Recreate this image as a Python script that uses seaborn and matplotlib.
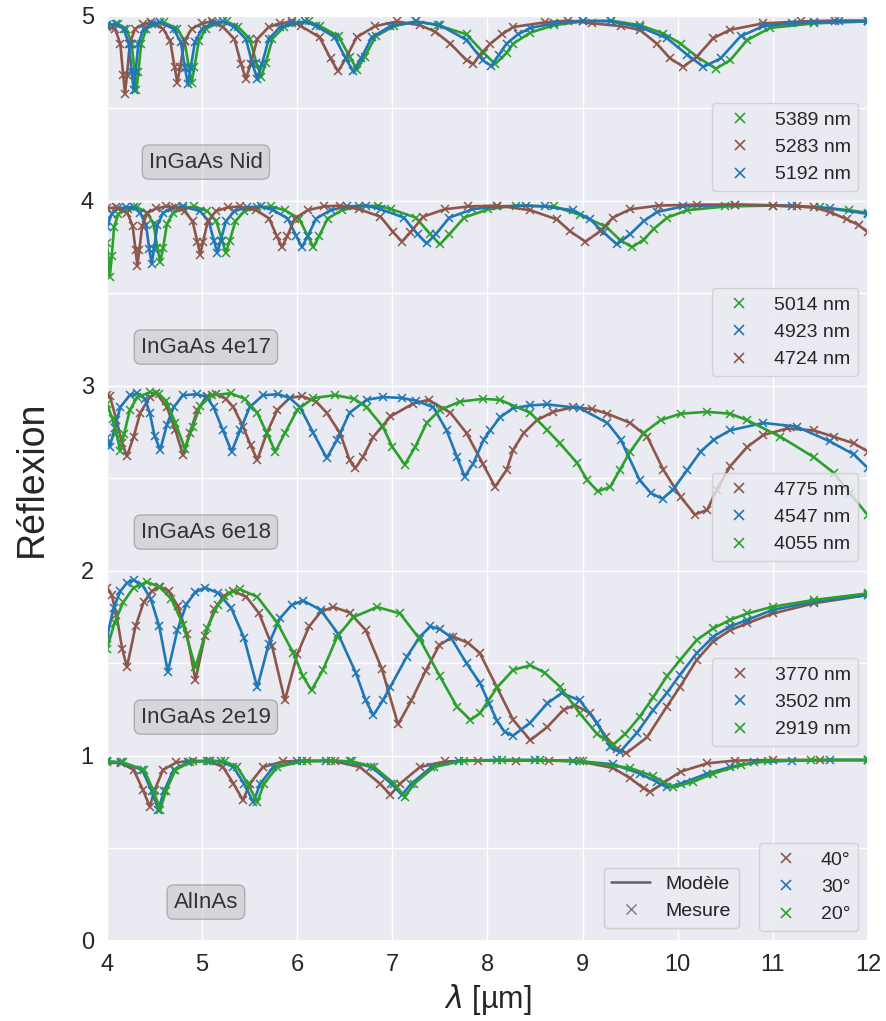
import numpy as np
import matplotlib
matplotlib.use("Agg")
import matplotlib.pyplot as plt
import seaborn as sns
from matplotlib.lines import Line2D

# wavelength (µm) / reflectance, one pair of lists per curve

# InGaAs Nid
nid_5389_x = [4.00, 4.12, 4.205, 4.26, 4.29, 4.31, 4.33, 4.36, 4.415, 4.50, 4.60, 4.74, 4.815, 4.86, 4.89, 4.92, 4.965, 5.04, 5.15, 5.26,
              5.38, 5.50, 5.57, 5.62, 5.67, 5.74, 5.86, 5.99, 6.12, 6.24, 6.435, 6.55, 6.63, 6.71, 6.825, 7.02, 7.25, 7.48, 7.78, 7.96,
              8.08, 8.20, 8.27, 8.45, 8.70, 9.00, 9.30, 9.60, 9.85, 10.03, 10.20, 10.40, 10.55, 10.73, 10.97, 11.43, 12.0]
nid_5389_r = [0.95, 0.955, 0.93, 0.85, 0.695, 0.60, 0.695, 0.85, 0.93, 0.955, 0.965, 0.93, 0.865, 0.725, 0.64, 0.725, 0.865, 0.93, 0.96, 0.97,
              0.94, 0.877, 0.748, 0.67, 0.748, 0.877, 0.94, 0.96, 0.97, 0.945, 0.89, 0.78, 0.71, 0.78, 0.89, 0.945, 0.97, 0.95, 0.90, 0.80,
              0.74, 0.80, 0.85, 0.91, 0.95, 0.97, 0.975, 0.95, 0.905, 0.85, 0.78, 0.715, 0.76, 0.87, 0.935, 0.96, 0.97]
nid_5283_x = [4.00, 4.085, 4.14, 4.17, 4.19, 4.21, 4.24, 4.295, 4.38, 4.46, 4.59, 4.665, 4.71, 4.74, 4.77, 4.815, 4.89, 5.00, 5.10,
              5.22, 5.34, 5.41, 5.46, 5.51, 5.58, 5.70, 5.82, 5.95, 6.04, 6.235, 6.35, 6.43, 6.51, 6.625, 6.82, 7.05,
              7.29, 7.45, 7.61, 7.78, 7.85, 7.92, 8.03, 8.15, 8.27, 8.60, 8.85, 9.10, 9.40, 9.60, 9.78, 9.92, 10.06, 10.20,
              10.375, 10.55, 10.90, 11.30, 11.65, 12.0]
nid_5283_r = [0.94, 0.93, 0.85, 0.68, 0.58, 0.68, 0.85, 0.93, 0.955, 0.965, 0.93, 0.865, 0.725, 0.64, 0.725, 0.865, 0.93, 0.96, 0.97,
              0.94, 0.875, 0.74, 0.66, 0.74, 0.875, 0.94, 0.96, 0.97, 0.945, 0.885, 0.77, 0.70, 0.77, 0.885, 0.945, 0.97,
              0.95, 0.915, 0.85, 0.76, 0.74, 0.79, 0.85, 0.90, 0.94, 0.965, 0.975, 0.96, 0.945, 0.925, 0.85, 0.77, 0.725, 0.78,
              0.88, 0.925, 0.96, 0.97, 0.975, 0.975]
nid_5192_x = [4.00, 4.10, 4.175, 4.23, 4.26, 4.28, 4.30, 4.33, 4.385, 4.47, 4.56, 4.70, 4.775, 4.82, 4.85, 4.88, 4.925, 5.00, 5.11, 5.22,
              5.34, 5.46, 5.53, 5.58, 5.63, 5.70, 5.82, 5.95, 6.08, 6.20, 6.395, 6.51, 6.59, 6.67, 6.785, 6.98, 7.25, 7.50, 7.78, 7.95,
              8.04, 8.12, 8.20, 8.32, 8.45, 8.70, 9.00, 9.30, 9.60, 9.885, 10.10, 10.27, 10.45, 10.66, 10.90, 11.20, 11.43, 11.70, 12.0]
nid_5192_r = [0.95, 0.955, 0.93, 0.85, 0.695, 0.60, 0.695, 0.85, 0.93, 0.955, 0.965, 0.93, 0.86, 0.72, 0.63, 0.72, 0.86, 0.93, 0.96, 0.97,
              0.94, 0.875, 0.74, 0.66, 0.74, 0.875, 0.94, 0.96, 0.97, 0.945, 0.885, 0.77, 0.70, 0.77, 0.885, 0.945, 0.97, 0.95, 0.87, 0.76,
              0.73, 0.79, 0.85, 0.90, 0.935, 0.96, 0.975, 0.97, 0.94, 0.88, 0.79, 0.725, 0.77, 0.89, 0.945, 0.96, 0.965, 0.97, 0.97]

# InGaAs 4e17
p17_5014_x = [4.00, 4.015, 4.03, 4.05, 4.075, 4.12, 4.22, 4.32, 4.425, 4.49, 4.53, 4.56, 4.59, 4.63, 4.695, 4.80, 4.92, 5.055, 5.15, 5.21,
              5.25, 5.29, 5.35, 5.445, 5.58, 5.72, 5.87, 6.02, 6.11, 6.17, 6.23, 6.32, 6.47, 6.65, 6.85, 6.99, 7.245, 7.40, 7.50, 7.60,
              7.755, 8.01, 8.30, 8.70, 8.97, 9.25, 9.39, 9.52, 9.64, 9.75, 9.89, 10.10, 10.50, 11.00, 11.50, 11.80, 12.0]
p17_5014_r = [0.77, 0.68, 0.59, 0.70, 0.86, 0.93, 0.955, 0.965, 0.935, 0.875, 0.745, 0.67, 0.745, 0.875, 0.935, 0.96, 0.97, 0.945, 0.89, 0.785,
              0.72, 0.785, 0.89, 0.945, 0.965, 0.97, 0.95, 0.905, 0.81, 0.75, 0.81, 0.905, 0.95, 0.97, 0.975, 0.955, 0.91, 0.82, 0.765, 0.82,
              0.91, 0.955, 0.975, 0.97, 0.925, 0.86, 0.79, 0.75, 0.79, 0.85, 0.91, 0.95, 0.97, 0.975, 0.965, 0.95, 0.935]
p17_4923_x = [4.00, 4.05, 4.12, 4.20, 4.28, 4.35, 4.41, 4.445, 4.47, 4.495, 4.53, 4.59, 4.68, 4.80, 4.98, 5.07, 5.125, 5.16, 5.195, 5.25,
              5.34, 5.47, 5.62, 5.75, 5.90, 5.99, 6.05, 6.11, 6.20, 6.35, 6.52, 6.72, 6.88, 7.12, 7.265, 7.36, 7.455, 7.60, 7.84, 8.10,
              8.40, 8.60, 8.90, 9.08, 9.22, 9.36, 9.50, 9.64, 9.78, 10.05, 10.60, 11.20, 11.60, 12.0]
p17_4923_r = [0.86, 0.93, 0.96, 0.965, 0.965, 0.935, 0.87, 0.74, 0.66, 0.74, 0.87, 0.935, 0.96, 0.97, 0.945, 0.89, 0.785, 0.72, 0.785, 0.89,
              0.945, 0.965, 0.97, 0.95, 0.905, 0.81, 0.75, 0.81, 0.905, 0.95, 0.97, 0.975, 0.955, 0.91, 0.82, 0.77, 0.82, 0.91, 0.955, 0.97,
              0.975, 0.97, 0.95, 0.90, 0.83, 0.765, 0.82, 0.89, 0.94, 0.97, 0.98, 0.975, 0.96, 0.93]
p17_4724_x = [4.00, 4.10, 4.215, 4.27, 4.30, 4.32, 4.34, 4.37, 4.425, 4.52, 4.62, 4.72, 4.815, 4.90, 4.95, 4.98, 5.01, 5.06, 5.145, 5.27,
              5.40, 5.57, 5.705, 5.785, 5.84, 5.895, 5.975, 6.11, 6.28, 6.45, 6.65, 6.875, 7.01, 7.10, 7.19, 7.325, 7.55, 7.80, 8.10, 8.45,
              8.73, 8.87, 9.03, 9.18, 9.32, 9.50, 9.80, 10.20, 10.60, 11.00, 11.25, 11.43, 11.60, 11.78, 11.90, 12.0]
p17_4724_r = [0.96, 0.965, 0.935, 0.865, 0.735, 0.65, 0.735, 0.865, 0.935, 0.96, 0.97, 0.965, 0.945, 0.89, 0.78, 0.71, 0.78, 0.89, 0.945, 0.965,
              0.97, 0.95, 0.905, 0.81, 0.75, 0.81, 0.905, 0.95, 0.97, 0.975, 0.955, 0.915, 0.83, 0.78, 0.83, 0.915, 0.955, 0.97, 0.975, 0.95,
              0.90, 0.835, 0.78, 0.835, 0.91, 0.955, 0.975, 0.98, 0.98, 0.975, 0.97, 0.965, 0.94, 0.90, 0.87, 0.83]

# InGaAs 6e18
p18_4775_x = [4.00, 4.03, 4.10, 4.16, 4.21, 4.28, 4.35, 4.45, 4.52, 4.63, 4.72, 4.80, 4.87, 4.95, 5.05, 5.15, 5.25, 5.33, 5.43, 5.51,
              5.58, 5.68, 5.79, 5.92, 6.05, 6.20, 6.31, 6.45, 6.55, 6.61, 6.69, 6.80, 6.98, 7.22, 7.38, 7.61, 7.78, 7.95, 8.08, 8.20,
              8.27, 8.38, 8.52, 8.69, 8.90, 9.10, 9.26, 9.50, 9.68, 9.85, 10.03, 10.18, 10.31, 10.41, 10.55, 10.73, 10.90, 11.15, 11.43, 11.64,
              11.85, 12.0]
p18_4775_r = [0.95, 0.945, 0.815, 0.69, 0.62, 0.725, 0.855, 0.94, 0.96, 0.885, 0.76, 0.625, 0.745, 0.87, 0.945, 0.955, 0.93, 0.885, 0.78, 0.68,
              0.60, 0.745, 0.87, 0.935, 0.945, 0.915, 0.855, 0.745, 0.60, 0.555, 0.615, 0.725, 0.835, 0.905, 0.925, 0.855, 0.745, 0.58, 0.455, 0.545,
              0.655, 0.745, 0.815, 0.86, 0.885, 0.875, 0.85, 0.80, 0.725, 0.545, 0.40, 0.305, 0.33, 0.44, 0.565, 0.67, 0.735, 0.77, 0.76, 0.725,
              0.69, 0.645]
p18_4547_x = [4.00, 4.03, 4.08, 4.14, 4.24, 4.32, 4.40, 4.45, 4.50, 4.56, 4.63, 4.70, 4.80, 4.95, 5.05, 5.12, 5.22, 5.31, 5.40, 5.50,
              5.64, 5.80, 5.92, 6.03, 6.17, 6.31, 6.42, 6.55, 6.73, 6.90, 7.10, 7.25, 7.43, 7.57, 7.68, 7.76, 7.85, 7.96, 8.03, 8.13,
              8.27, 8.45, 8.63, 8.97, 9.26, 9.40, 9.60, 9.72, 9.84, 9.95, 10.10, 10.24, 10.38, 10.55, 10.90, 11.25, 11.60, 11.85, 12.0]
p18_4547_r = [0.72, 0.67, 0.77, 0.885, 0.95, 0.96, 0.93, 0.855, 0.73, 0.655, 0.79, 0.885, 0.95, 0.955, 0.94, 0.885, 0.76, 0.645, 0.76, 0.885,
              0.95, 0.955, 0.935, 0.885, 0.745, 0.61, 0.71, 0.855, 0.925, 0.94, 0.935, 0.92, 0.885, 0.76, 0.615, 0.51, 0.58, 0.71, 0.76, 0.83,
              0.88, 0.895, 0.90, 0.88, 0.80, 0.71, 0.49, 0.42, 0.39, 0.44, 0.545, 0.645, 0.71, 0.76, 0.80, 0.78, 0.70, 0.63, 0.555]
p18_4055_x = [4.00, 4.06, 4.10, 4.14, 4.18, 4.24, 4.32, 4.45, 4.55, 4.62, 4.72, 4.82, 4.90, 4.98, 5.10, 5.30, 5.45, 5.58, 5.68, 5.77,
              5.87, 6.00, 6.17, 6.40, 6.60, 6.73, 6.90, 7.00, 7.13, 7.24, 7.36, 7.50, 7.71, 7.95, 8.13, 8.45, 8.63, 8.76, 8.94, 9.05,
              9.16, 9.29, 9.39, 9.50, 9.64, 9.82, 10.03, 10.31, 10.55, 10.73, 11.08, 11.43, 11.64, 11.81, 12.0]
p18_4055_r = [0.90, 0.82, 0.74, 0.65, 0.74, 0.87, 0.94, 0.965, 0.955, 0.92, 0.80, 0.66, 0.78, 0.89, 0.95, 0.96, 0.93, 0.855, 0.745, 0.645,
              0.745, 0.87, 0.935, 0.95, 0.93, 0.885, 0.78, 0.67, 0.575, 0.67, 0.80, 0.87, 0.915, 0.93, 0.925, 0.855, 0.76, 0.69, 0.585, 0.49,
              0.43, 0.455, 0.545, 0.645, 0.745, 0.815, 0.85, 0.86, 0.85, 0.815, 0.725, 0.615, 0.53, 0.42, 0.30]

# InGaAs 2e19
p19_3770_x = [4.00, 4.05, 4.10, 4.16, 4.21, 4.30, 4.385, 4.47, 4.56, 4.65, 4.745, 4.84, 4.93, 5.03, 5.13, 5.23, 5.33, 5.465, 5.60, 5.735,
              5.87, 6.00, 6.125, 6.25, 6.38, 6.55, 6.72, 6.89, 7.06, 7.20, 7.35, 7.495, 7.64, 7.80, 7.92, 8.10, 8.27, 8.45, 8.63, 8.80,
              8.92, 9.08, 9.25, 9.36, 9.46, 9.675, 9.885, 10.025, 10.20, 10.375, 10.55, 10.73, 11.00, 11.43, 12.0]
p19_3770_r = [0.91, 0.87, 0.76, 0.58, 0.48, 0.70, 0.83, 0.89, 0.915, 0.89, 0.81, 0.66, 0.41, 0.65, 0.795, 0.865, 0.89, 0.86, 0.77, 0.595,
              0.30, 0.55, 0.70, 0.78, 0.805, 0.775, 0.68, 0.47, 0.17, 0.30, 0.46, 0.60, 0.645, 0.61, 0.555, 0.37, 0.195, 0.085, 0.157, 0.25,
              0.275, 0.23, 0.10, 0.04, 0.015, 0.10, 0.267, 0.375, 0.52, 0.62, 0.68, 0.717, 0.77, 0.825, 0.87]
p19_3502_x = [4.00, 4.07, 4.14, 4.21, 4.28, 4.37, 4.46, 4.55, 4.64, 4.74, 4.835, 4.93, 5.03, 5.17, 5.305, 5.44, 5.58, 5.70, 5.82, 5.94,
              6.06, 6.245, 6.43, 6.615, 6.72, 6.80, 6.90, 6.98, 7.15, 7.29, 7.40, 7.50, 7.61, 7.78, 7.92, 8.02, 8.10, 8.18, 8.27, 8.45,
              8.63, 8.78, 8.97, 9.15, 9.29, 9.39, 9.57, 9.745, 9.885, 10.025, 10.20, 10.375, 10.55, 10.73, 11.00, 11.43, 12.0]
p19_3502_r = [0.64, 0.80, 0.89, 0.935, 0.95, 0.925, 0.85, 0.70, 0.455, 0.68, 0.82, 0.885, 0.91, 0.88, 0.80, 0.64, 0.37, 0.605, 0.745, 0.815,
              0.84, 0.79, 0.66, 0.45, 0.30, 0.22, 0.30, 0.375, 0.535, 0.645, 0.70, 0.685, 0.645, 0.50, 0.395, 0.28, 0.19, 0.13, 0.11, 0.18,
              0.285, 0.34, 0.30, 0.18, 0.05, 0.02, 0.125, 0.25, 0.34, 0.44, 0.556, 0.645, 0.70, 0.735, 0.79, 0.834, 0.87]
p19_2919_x = [4.00, 4.08, 4.17, 4.28, 4.42, 4.55, 4.675, 4.80, 4.93, 5.05, 5.165, 5.28, 5.40, 5.58, 5.79, 5.96, 6.06, 6.15, 6.27, 6.42,
              6.59, 6.84, 7.08, 7.29, 7.50, 7.68, 7.82, 7.92, 8.10, 8.27, 8.45, 8.60, 8.76, 8.97, 9.15, 9.32, 9.45, 9.60, 9.745, 9.885,
              10.025, 10.20, 10.375, 10.55, 10.73, 11.00, 11.43, 12.0]
p19_2919_r = [0.58, 0.72, 0.83, 0.91, 0.94, 0.915, 0.85, 0.71, 0.48, 0.69, 0.815, 0.88, 0.90, 0.86, 0.72, 0.555, 0.43, 0.355, 0.465, 0.645,
              0.75, 0.805, 0.77, 0.63, 0.43, 0.265, 0.195, 0.23, 0.37, 0.465, 0.49, 0.45, 0.375, 0.23, 0.12, 0.06, 0.12, 0.212, 0.32, 0.43,
              0.519, 0.627, 0.69, 0.735, 0.77, 0.807, 0.843, 0.879]

# AlInAs, three incidence angles
al_40_x = [4.00, 4.15, 4.28, 4.38, 4.45, 4.50, 4.59, 4.73, 4.90, 5.08, 5.22, 5.33, 5.43, 5.50, 5.64, 5.85, 6.10, 6.40, 6.66, 6.87,
           6.98, 7.08, 7.29, 7.55, 7.90, 8.30, 8.65, 8.97, 9.32, 9.50, 9.64, 9.71, 9.85, 10.03, 10.31, 10.60, 11.00, 11.50, 12.0]
al_40_r = [0.965, 0.96, 0.925, 0.815, 0.725, 0.815, 0.925, 0.965, 0.975, 0.97, 0.94, 0.85, 0.76, 0.85, 0.94, 0.97, 0.975, 0.97, 0.94, 0.85,
           0.79, 0.85, 0.94, 0.97, 0.975, 0.975, 0.975, 0.97, 0.935, 0.88, 0.825, 0.805, 0.855, 0.915, 0.96, 0.975, 0.978, 0.978, 0.978]
al_30_x = [4.00, 4.15, 4.37, 4.47, 4.54, 4.60, 4.70, 4.85, 5.05, 5.20, 5.33, 5.44, 5.54, 5.61, 5.75, 6.00, 6.30, 6.55, 6.78, 6.99,
           7.10, 7.20, 7.41, 7.70, 8.10, 8.50, 8.90, 9.32, 9.60, 9.78, 9.885, 10.03, 10.31, 10.55, 10.80, 11.20, 11.60, 12.0]
al_30_r = [0.97, 0.965, 0.925, 0.81, 0.71, 0.81, 0.925, 0.965, 0.975, 0.97, 0.94, 0.85, 0.75, 0.85, 0.94, 0.97, 0.975, 0.97, 0.94, 0.85,
           0.79, 0.85, 0.94, 0.975, 0.978, 0.978, 0.975, 0.955, 0.905, 0.86, 0.83, 0.85, 0.905, 0.94, 0.965, 0.975, 0.978, 0.978]
al_20_x = [4.00, 4.17, 4.39, 4.49, 4.56, 4.62, 4.72, 4.87, 5.07, 5.24, 5.37, 5.48, 5.58, 5.65, 5.79, 6.05, 6.35, 6.58, 6.81, 7.02,
           7.13, 7.23, 7.44, 7.75, 8.15, 8.55, 9.00, 9.50, 9.745, 9.95, 10.16, 10.375, 10.66, 10.95, 11.40, 12.0]
al_20_r = [0.97, 0.965, 0.925, 0.81, 0.71, 0.81, 0.925, 0.965, 0.975, 0.97, 0.94, 0.85, 0.75, 0.85, 0.94, 0.97, 0.975, 0.97, 0.94, 0.85,
           0.78, 0.85, 0.94, 0.975, 0.978, 0.978, 0.97, 0.935, 0.89, 0.83, 0.86, 0.905, 0.95, 0.975, 0.978, 0.978]

BROWN, BLUE, GREEN = "#8c564b", "#1f77b4", "#2ca02c"

# (vertical offset, sample label, curves in legend order)
bands = [
    (4, "InGaAs Nid", [(nid_5389_x, nid_5389_r, GREEN, "5389 nm"),
                       (nid_5283_x, nid_5283_r, BROWN, "5283 nm"),
                       (nid_5192_x, nid_5192_r, BLUE, "5192 nm")]),
    (3, "InGaAs 4e17", [(p17_5014_x, p17_5014_r, GREEN, "5014 nm"),
                        (p17_4923_x, p17_4923_r, BLUE, "4923 nm"),
                        (p17_4724_x, p17_4724_r, BROWN, "4724 nm")]),
    (2, "InGaAs 6e18", [(p18_4775_x, p18_4775_r, BROWN, "4775 nm"),
                        (p18_4547_x, p18_4547_r, BLUE, "4547 nm"),
                        (p18_4055_x, p18_4055_r, GREEN, "4055 nm")]),
    (1, "InGaAs 2e19", [(p19_3770_x, p19_3770_r, BROWN, "3770 nm"),
                        (p19_3502_x, p19_3502_r, BLUE, "3502 nm"),
                        (p19_2919_x, p19_2919_r, GREEN, "2919 nm")]),
    (0, "AlInAs", [(al_40_x, al_40_r, BROWN, "40°"),
                   (al_30_x, al_30_r, BLUE, "30°"),
                   (al_20_x, al_20_r, GREEN, "20°")]),
]

sns.set_theme(style="darkgrid")
plt.rcParams["font.family"] = ["Liberation Sans", "DejaVu Sans"]

fig = plt.figure(figsize=(8.87, 10.21), dpi=100)
ax = fig.add_axes([0.1206, 0.0784, 0.8580, 0.9060])

for offset, name, curves in bands:
    handles = []
    for x, r, c, lab in curves:
        sns.lineplot(x=x, y=np.asarray(r) + offset, color=c, lw=1.9,
                     marker="x", markersize=6, mew=1.1, mec=c,
                     estimator=None, sort=False, ax=ax)
        handles.append(Line2D([], [], ls="none", marker="x", color=c,
                              markersize=7, mew=1.2, label=lab))
    leg = ax.legend(handles=handles, loc="lower right",
                    bbox_to_anchor=(1, offset / 5), fontsize=14)
    ax.add_artist(leg)
    ax.text(5.04, offset + 0.21, name, ha="center", va="center", fontsize=16,
            color="0.2", bbox=dict(boxstyle="round,pad=0.3", fc="0.72",
                                   ec="0.4", alpha=0.4))

# style legend (model vs measurement)
style_handles = [Line2D([], [], color="0.4", lw=1.8, label="Modèle"),
                 Line2D([], [], ls="none", marker="x", color="0.5",
                        markersize=7, mew=1.0, label="Mesure")]
leg2 = ax.legend(handles=style_handles, loc="lower right",
                 bbox_to_anchor=(0.8305, 0.014), borderaxespad=0, fontsize=14)
ax.add_artist(leg2)

ax.set_xlim(4, 12)
ax.set_ylim(0, 5)
ax.set_xticks(range(4, 13))
ax.set_yticks(np.arange(0, 5.01, 0.5))
ax.set_yticklabels([str(int(v)) if v == int(v) else "" for v in np.arange(0, 5.01, 0.5)])
ax.tick_params(labelsize=17)
ax.set_xlabel(r"$\lambda$ [µm]", fontsize=22)
ax.set_ylabel("Réflexion", fontsize=27, labelpad=22)

fig.savefig("out.png", dpi=100)
